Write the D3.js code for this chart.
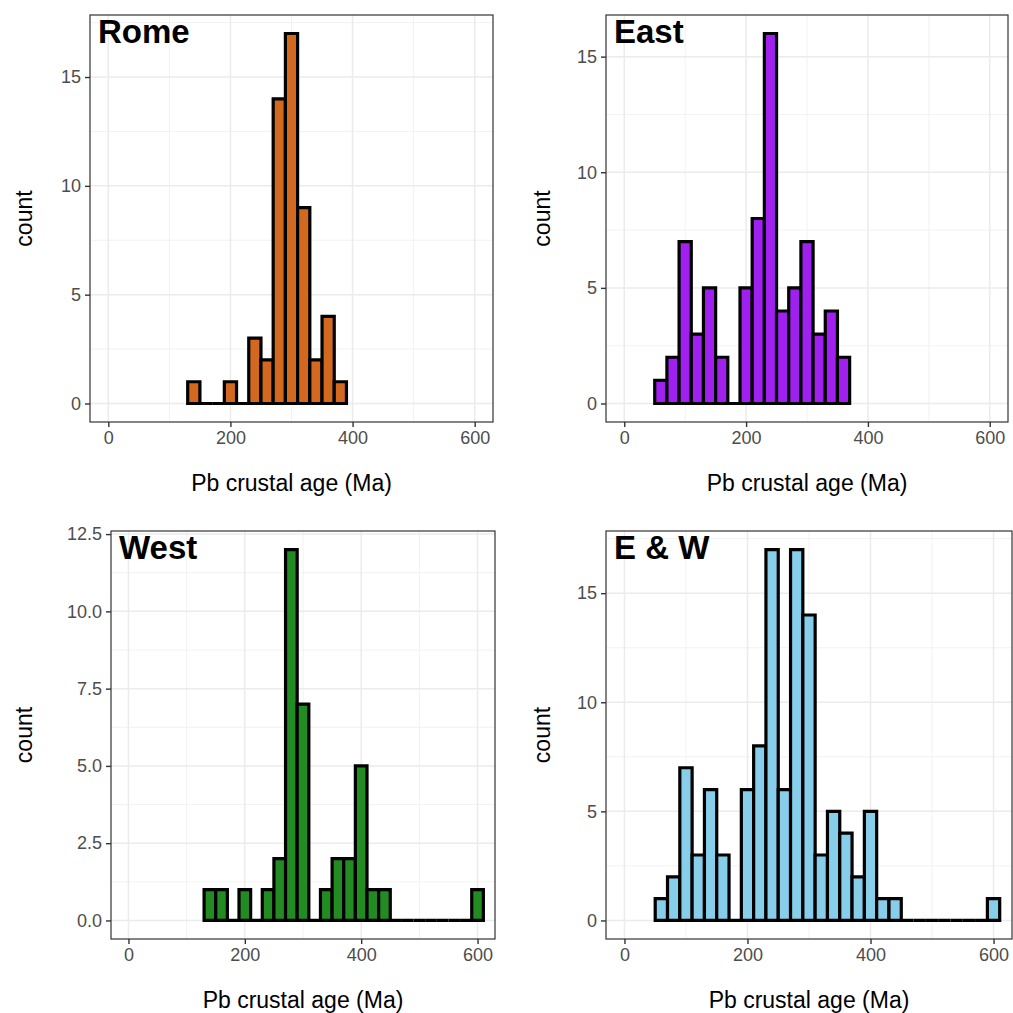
<!DOCTYPE html>
<html>
<head>
<meta charset="utf-8">
<script src="https://cdn.jsdelivr.net/npm/d3@7"></script>
<style>
body { margin: 0; background: #fff; }
text { font-family: "Liberation Sans", Arial, sans-serif; }
</style>
</head>
<body>
<script>
// Datos: conteos por bin (ancho 20 Ma), primer bin empieza en binStart
const binWidth = 20

const romeStart = 130
const romeCounts = [1, 0, 0, 1, 0, 3, 2, 14, 17, 9, 2, 4, 1]

const eastStart = 50
const eastCounts = [1, 2, 7, 3, 5, 2, 0, 5, 8, 16, 4, 5, 7, 3, 4, 2]

const westStart = 130
const westCounts = [1, 1, 0, 1, 0, 1, 2, 12, 7, 0, 1, 2, 2, 5, 1, 1, 0, 0, 0, 0, 0, 0, 0, 1]

const ewStart = 50
const ewCounts = [1, 2, 7, 3, 6, 3, 0, 6, 8, 17, 6, 17, 14, 3, 5, 4, 2, 5, 1, 1, 0, 0, 0, 0, 0, 0, 0, 1]

const xTicks = [0, 200, 400, 600]
const xLabel = "Pb crustal age (Ma)"
const yLabel = "count"

const panels = [
    {title: "Rome", start: romeStart, counts: romeCounts, fill: "#D2691E", yTicks: [0, 5, 10, 15], fmt: d3.format("d"),
     left: 90, right: 493, top: 15, bottom: 422, ylabX: 24},
    {title: "East", start: eastStart, counts: eastCounts, fill: "#A020F0", yTicks: [0, 5, 10, 15], fmt: d3.format("d"),
     left: 606, right: 1008, top: 15, bottom: 422, ylabX: 542},
    {title: "West", start: westStart, counts: westCounts, fill: "#228B22", yTicks: [0, 2.5, 5, 7.5, 10, 12.5], fmt: d3.format(".1f"),
     left: 111, right: 495, top: 531, bottom: 939, ylabX: 24},
    {title: "E & W", start: ewStart, counts: ewCounts, fill: "#87CEEB", yTicks: [0, 5, 10, 15], fmt: d3.format("d"),
     left: 606, right: 1012, top: 531, bottom: 939, ylabX: 542}
]

let svg = d3.select("body").append("svg")
    .attr("width", 1013)
    .attr("height", 1013)

panels.forEach(p => {
    let bins = p.counts.map((c, i) => ({x0: p.start + i * binWidth, x1: p.start + (i + 1) * binWidth, n: c}))
    let ymax = d3.max(p.counts)

    let x = d3.scaleLinear().domain([-30, 630]).range([p.left, p.right])
    let y = d3.scaleLinear().domain([-0.05 * ymax, 1.05 * ymax]).range([p.bottom, p.top])

    let g = svg.append("g")

    g.append("rect").attr("x", p.left).attr("y", p.top)
        .attr("width", p.right - p.left).attr("height", p.bottom - p.top).attr("fill", "#fff")

    let yStep = p.yTicks[1] - p.yTicks[0]
    let yMinor = p.yTicks.map(t => t + yStep / 2).filter(t => y(t) > p.top)
    let xMinor = [100, 300, 500]

    g.selectAll(".xminor").data(xMinor).join("line")
        .attr("x1", d => x(d)).attr("x2", d => x(d)).attr("y1", p.top).attr("y2", p.bottom)
        .attr("stroke", "#f2f2f2").attr("stroke-width", 1)
    g.selectAll(".yminor").data(yMinor).join("line")
        .attr("y1", d => y(d)).attr("y2", d => y(d)).attr("x1", p.left).attr("x2", p.right)
        .attr("stroke", "#f2f2f2").attr("stroke-width", 1)
    g.selectAll(".xmajor").data(xTicks).join("line")
        .attr("x1", d => x(d)).attr("x2", d => x(d)).attr("y1", p.top).attr("y2", p.bottom)
        .attr("stroke", "#ebebeb").attr("stroke-width", 1.5)
    g.selectAll(".ymajor").data(p.yTicks).join("line")
        .attr("y1", d => y(d)).attr("y2", d => y(d)).attr("x1", p.left).attr("x2", p.right)
        .attr("stroke", "#ebebeb").attr("stroke-width", 1.5)

    // barras como path para que los bins vacíos dibujen su línea
    g.selectAll(".bar").data(bins).join("path")
        .attr("d", d => `M${x(d.x0)},${y(0)}V${y(d.n)}H${x(d.x1)}V${y(0)}Z`)
        .attr("fill", p.fill)
        .attr("stroke", "#000")
        .attr("stroke-width", 3.2)
        .attr("stroke-linejoin", "miter")

    g.append("rect").attr("x", p.left).attr("y", p.top)
        .attr("width", p.right - p.left).attr("height", p.bottom - p.top)
        .attr("fill", "none").attr("stroke", "#333").attr("stroke-width", 1.2)

    let xAxis = g.append("g").attr("transform", `translate(0,${p.bottom})`)
        .call(d3.axisBottom(x).tickValues(xTicks).tickSize(5).tickPadding(4))
    let yAxis = g.append("g").attr("transform", `translate(${p.left},0)`)
        .call(d3.axisLeft(y).tickValues(p.yTicks).tickFormat(p.fmt).tickSize(5).tickPadding(4))
    ;[xAxis, yAxis].forEach(a => {
        a.select(".domain").remove()
        a.selectAll("line").attr("stroke", "#333").attr("stroke-width", 1.4)
        a.selectAll("text").attr("fill", "#4d4d4d").style("font-size", "18px")
            .style("font-family", "'Liberation Sans', Arial, sans-serif")
    })

    g.append("text").attr("x", (p.left + p.right) / 2).attr("y", p.bottom + 69)
        .attr("text-anchor", "middle").style("font-size", "23px").text(xLabel)
    g.append("text").attr("transform", `translate(${p.ylabX},${(p.top + p.bottom) / 2}) rotate(-90)`)
        .attr("text-anchor", "middle").attr("dy", "0.35em").style("font-size", "23px").text(yLabel)
    g.append("text").attr("x", p.left + 8).attr("y", p.top + 28)
        .style("font-size", "33px").style("font-weight", "bold").text(p.title)
})
</script>
</body>
</html>
